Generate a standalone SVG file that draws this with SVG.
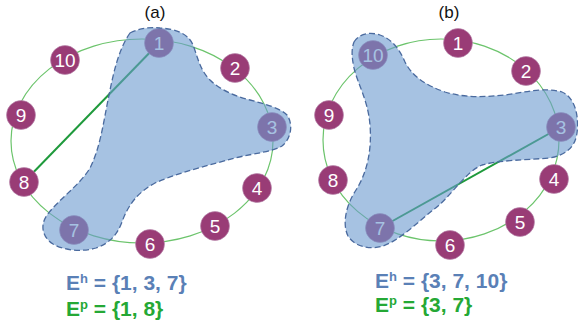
<svg xmlns="http://www.w3.org/2000/svg" width="578" height="329" viewBox="0 0 578 329">
<style>
.ring{fill:none;stroke:#6cc46c;stroke-width:1.2}
.node circle{fill:#993c76;stroke:#b98aae;stroke-width:0.6}
.node text{fill:#fff;font-family:"Liberation Sans",Arial,sans-serif;font-size:19px;text-anchor:middle;dominant-baseline:central}
.blob{fill:#6b99cf;fill-opacity:0.6;stroke:#4a6a9e;stroke-width:1.3;stroke-dasharray:6 3}
.edge{stroke:#1f9a3c;stroke-width:2}
.title{font-family:"Liberation Sans",Arial,sans-serif;font-size:17px;fill:#111;text-anchor:middle}
.eq{font-family:"Liberation Sans",Arial,sans-serif;font-size:21px;font-weight:bold}
.sup{font-size:13px;font-weight:bold}
.eh{fill:#5a80b6}
.ep{fill:#25a835}
</style>
<text class="title" x="155" y="18">(a)</text>
<text class="title" x="449" y="18">(b)</text>
<ellipse class="ring" cx="142" cy="141" rx="131" ry="102"/>
<ellipse class="ring" cx="441" cy="140" rx="118" ry="101"/>
<g id="connectors">
<line class="edge" x1="159" y1="43" x2="24" y2="182"/>
<line class="edge" x1="561" y1="127" x2="380" y2="228"/>
</g>
<g id="a-n1" class="node"><circle cx="159" cy="43" r="14.5"/><text x="159" y="43">1</text></g>
<g id="a-n2" class="node"><circle cx="235" cy="68" r="14.5"/><text x="235" y="68">2</text></g>
<g id="a-n3" class="node"><circle cx="272" cy="127" r="14.5"/><text x="272" y="127">3</text></g>
<g id="a-n4" class="node"><circle cx="257" cy="188" r="14.5"/><text x="257" y="188">4</text></g>
<g id="a-n5" class="node"><circle cx="215" cy="226" r="14.5"/><text x="215" y="226">5</text></g>
<g id="a-n6" class="node"><circle cx="150" cy="244" r="14.5"/><text x="150" y="244">6</text></g>
<g id="a-n7" class="node"><circle cx="74" cy="230" r="14.5"/><text x="74" y="230">7</text></g>
<g id="a-n8" class="node"><circle cx="24" cy="182" r="14.5"/><text x="24" y="182">8</text></g>
<g id="a-n9" class="node"><circle cx="21" cy="115" r="14.5"/><text x="21" y="115">9</text></g>
<g id="a-n10" class="node"><circle cx="65" cy="60" r="14.5"/><text x="65" y="60">10</text></g>
<g id="b-n1" class="node"><circle cx="458" cy="43" r="14.5"/><text x="458" y="43">1</text></g>
<g id="b-n2" class="node"><circle cx="526" cy="71" r="14.5"/><text x="526" y="71">2</text></g>
<g id="b-n3" class="node"><circle cx="561" cy="127" r="14.5"/><text x="561" y="127">3</text></g>
<g id="b-n4" class="node"><circle cx="554" cy="179" r="14.5"/><text x="554" y="179">4</text></g>
<g id="b-n5" class="node"><circle cx="520" cy="222" r="14.5"/><text x="520" y="222">5</text></g>
<g id="b-n6" class="node"><circle cx="450" cy="245" r="14.5"/><text x="450" y="245">6</text></g>
<g id="b-n7" class="node"><circle cx="380" cy="228" r="14.5"/><text x="380" y="228">7</text></g>
<g id="b-n8" class="node"><circle cx="333" cy="180" r="14.5"/><text x="333" y="180">8</text></g>
<g id="b-n9" class="node"><circle cx="329" cy="115" r="14.5"/><text x="329" y="115">9</text></g>
<g id="b-n10" class="node"><circle cx="373" cy="55" r="14.5"/><text x="373" y="55">10</text></g>
<g id="hyperedge-a">
<path class="blob" d="M130,33 C140,28 150,27 160,28 C175,29 188,33 193,45 C198,58 200,70 210,80 C220,90 235,96 250,100 C265,104 280,108 287,115 C293,123 292,138 282,146 C272,152 255,153 235,158 C210,165 180,172 155,183 C138,192 128,205 122,222 C117,235 110,243 96,248 C82,252 65,251 53,244 C42,237 40,225 47,215 C60,198 80,185 90,168 C100,148 103,125 108,100 C113,75 118,50 130,33 Z"/>
</g>
<g id="hyperedge-b">
<path class="blob" d="M354,42 C358,35 368,31 380,35 C392,39 400,50 405,62 C412,76 425,85 445,92 C465,98 485,97 505,95 C525,92 545,87 562,92 C576,98 579,118 577,133 C575,148 565,155 550,158 C525,160 500,160 482,165 C465,172 450,198 433,210 C418,222 400,240 383,246 C370,250 355,247 348,236 C342,224 346,205 356,190 C367,173 372,150 370,125 C368,100 358,85 354,68 C352,58 351,50 354,42 Z"/>
</g>
<text class="eq eh" x="66" y="290">E<tspan class="sup" dy="-7">h</tspan><tspan dy="7"> = {1, 3, 7}</tspan></text>
<text class="eq ep" x="66" y="316">E<tspan class="sup" dy="-7">p</tspan><tspan dy="7"> = {1, 8}</tspan></text>
<text class="eq eh" x="375" y="288">E<tspan class="sup" dy="-7">h</tspan><tspan dy="7"> = {3, 7, 10}</tspan></text>
<text class="eq ep" x="375" y="312">E<tspan class="sup" dy="-7">p</tspan><tspan dy="7"> = {3, 7}</tspan></text>
</svg>
